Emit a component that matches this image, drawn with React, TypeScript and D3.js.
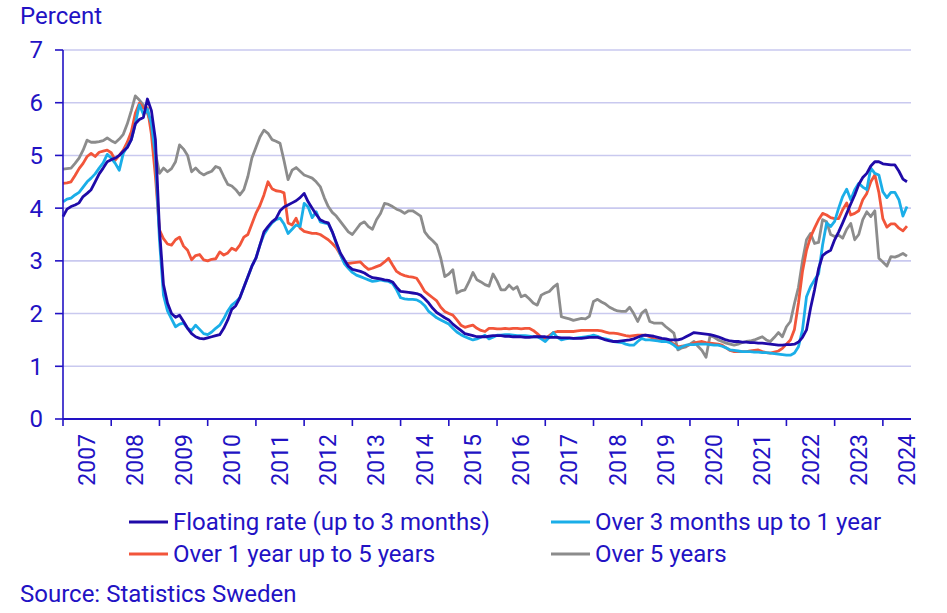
import React from "react";
import * as d3 from "d3";

// monthly values, Jan 2007 .. Jul 2024
const startYear = 2007;
const years = d3.range(2007, 2025);
const yTicks = [0, 1, 2, 3, 4, 5, 6, 7];

const floating = [
  3.84, 3.98, 4.03, 4.06, 4.1, 4.22, 4.28, 4.35, 4.5, 4.65, 4.76, 4.88,
  4.92, 4.95, 5.0, 5.08, 5.15, 5.3, 5.6, 5.68, 5.72, 6.07, 5.85, 5.3,
  3.6, 2.55, 2.2, 2.0, 1.93, 1.97, 1.85, 1.72, 1.62, 1.56, 1.53, 1.52,
  1.54, 1.56, 1.58, 1.6, 1.72, 1.88, 2.08, 2.15, 2.3, 2.5, 2.7, 2.9,
  3.05, 3.3, 3.55, 3.65, 3.74, 3.8, 3.95, 4.02, 4.06, 4.1, 4.14, 4.2,
  4.28, 4.12, 4.0, 3.88, 3.78, 3.74, 3.72, 3.55, 3.35, 3.15, 3.02, 2.9,
  2.84, 2.82, 2.8, 2.77, 2.72, 2.68, 2.67, 2.66, 2.64, 2.63, 2.6, 2.5,
  2.42, 2.41, 2.4, 2.39, 2.38, 2.35, 2.28, 2.2, 2.1, 2.02, 1.97, 1.92,
  1.88, 1.8, 1.74, 1.68, 1.62, 1.6, 1.58, 1.56, 1.56, 1.56, 1.57, 1.58,
  1.58, 1.58, 1.57, 1.57, 1.56, 1.56, 1.56, 1.55, 1.55, 1.56, 1.56, 1.56,
  1.56, 1.55, 1.55, 1.55, 1.54, 1.54, 1.54, 1.53, 1.53, 1.53, 1.54, 1.55,
  1.55, 1.55, 1.53, 1.5, 1.48, 1.47, 1.47, 1.48, 1.49, 1.5, 1.52, 1.55,
  1.58, 1.59, 1.58, 1.57, 1.55, 1.53, 1.52, 1.5, 1.5, 1.5, 1.52, 1.56,
  1.6, 1.64, 1.63, 1.62, 1.61, 1.6, 1.58, 1.56, 1.53, 1.5, 1.48, 1.47,
  1.47, 1.46, 1.46, 1.45, 1.45, 1.44, 1.44, 1.43, 1.42, 1.41, 1.4, 1.4,
  1.41, 1.41, 1.42, 1.46, 1.55, 1.69, 2.1, 2.45, 2.85, 3.1, 3.16, 3.2,
  3.4, 3.55, 3.72, 3.9, 4.08, 4.25, 4.45, 4.58, 4.66, 4.8, 4.88, 4.88,
  4.84, 4.83, 4.82, 4.82, 4.7, 4.55, 4.5,
];

const upTo1y = [
  4.12, 4.17, 4.19, 4.25, 4.3, 4.4, 4.5, 4.57, 4.65, 4.76, 4.86, 5.02,
  4.95, 4.85, 4.72, 5.04, 5.17, 5.3, 5.6, 5.96, 5.78, 5.88, 5.6, 5.0,
  3.4, 2.35, 2.05, 1.9, 1.75, 1.8, 1.82, 1.72, 1.68, 1.78, 1.7, 1.62,
  1.6, 1.65, 1.72, 1.78, 1.9, 2.05, 2.16, 2.22, 2.3, 2.5, 2.7, 2.9,
  3.05, 3.3, 3.5, 3.62, 3.72, 3.78, 3.81, 3.7, 3.52, 3.6, 3.68, 3.65,
  4.09, 4.02, 3.82, 3.93, 3.74, 3.72, 3.7, 3.55, 3.33, 3.12, 2.95, 2.86,
  2.78, 2.73, 2.7, 2.67, 2.64, 2.61, 2.62, 2.64, 2.62, 2.61, 2.57, 2.45,
  2.3, 2.28, 2.27, 2.27, 2.26, 2.22, 2.15, 2.04, 1.98, 1.92, 1.88, 1.84,
  1.8, 1.72, 1.65, 1.6, 1.56, 1.53, 1.5, 1.52, 1.55, 1.59, 1.52, 1.55,
  1.59, 1.59, 1.6, 1.6, 1.59, 1.58, 1.58, 1.58, 1.57, 1.56, 1.56, 1.52,
  1.47, 1.55, 1.64, 1.55, 1.5, 1.52, 1.53, 1.53, 1.54, 1.55, 1.56, 1.57,
  1.59, 1.57, 1.53, 1.52, 1.5, 1.47, 1.46, 1.45, 1.42, 1.4, 1.4, 1.47,
  1.53, 1.5, 1.5, 1.49, 1.48, 1.47, 1.47, 1.45, 1.4, 1.34, 1.37, 1.4,
  1.41, 1.41, 1.42, 1.42, 1.42, 1.41, 1.4, 1.4, 1.38, 1.35, 1.31, 1.3,
  1.29, 1.28, 1.28, 1.28, 1.27, 1.27, 1.26, 1.26, 1.25, 1.24, 1.23, 1.22,
  1.21, 1.21, 1.25, 1.37, 1.69, 2.32, 2.51, 2.64, 2.75, 3.3, 3.72, 3.65,
  3.75, 4.0, 4.22, 4.36, 4.16, 4.35, 4.47, 4.4, 4.35, 4.76, 4.66, 4.63,
  4.31, 4.2, 4.3, 4.3, 4.16, 3.85, 4.03,
];

const upTo5y = [
  4.47, 4.48, 4.5, 4.62, 4.75, 4.85, 4.98, 5.04, 4.98, 5.06, 5.08, 5.1,
  5.05, 4.91, 5.0, 5.1, 5.25, 5.45, 5.8, 5.99, 5.9, 5.9, 5.4, 4.6,
  3.59, 3.42, 3.32, 3.3, 3.4, 3.45, 3.28, 3.2, 3.02, 3.1, 3.12, 3.02,
  3.0, 3.03, 3.04, 3.17, 3.11, 3.15, 3.24, 3.2, 3.3, 3.45, 3.5, 3.7,
  3.9, 4.05, 4.25, 4.5, 4.37, 4.33, 4.32, 4.29, 3.72, 3.68, 3.81, 3.62,
  3.56, 3.54, 3.52, 3.52, 3.5, 3.45, 3.4, 3.33, 3.25, 3.12, 2.97, 2.95,
  2.96, 2.97, 2.98, 2.9, 2.84, 2.86, 2.89, 2.92, 2.98, 3.05, 2.92, 2.8,
  2.75, 2.72, 2.7, 2.69, 2.67, 2.55, 2.42, 2.36, 2.3, 2.24, 2.12, 2.04,
  2.0, 1.97, 1.88, 1.78, 1.74, 1.76, 1.78, 1.72, 1.68, 1.66, 1.72, 1.72,
  1.71, 1.71, 1.72, 1.71, 1.72, 1.72, 1.71, 1.72, 1.72, 1.68, 1.62, 1.55,
  1.53, 1.58, 1.64, 1.66, 1.66, 1.66, 1.66, 1.66, 1.67, 1.68, 1.68, 1.68,
  1.68, 1.68, 1.67, 1.65, 1.63, 1.63, 1.62, 1.6, 1.58, 1.57, 1.58, 1.59,
  1.59, 1.59, 1.56, 1.52, 1.5, 1.49, 1.48, 1.47, 1.42, 1.37, 1.38, 1.39,
  1.41, 1.44, 1.46, 1.47, 1.45, 1.44, 1.43, 1.42, 1.4, 1.35, 1.3, 1.28,
  1.28, 1.28, 1.28, 1.29, 1.3, 1.31, 1.28, 1.26, 1.25, 1.27, 1.29, 1.34,
  1.42, 1.5, 1.7, 2.2, 2.8, 3.2, 3.45, 3.62, 3.78, 3.9, 3.87, 3.82,
  3.8, 3.8, 3.97, 4.1, 3.87, 3.9, 3.95, 4.16, 4.28, 4.5, 4.63, 4.3,
  3.8, 3.64, 3.7, 3.7, 3.62, 3.57, 3.66,
];

const over5y = [
  4.74, 4.75, 4.76, 4.85, 4.95, 5.1, 5.29, 5.25, 5.25, 5.26, 5.28, 5.33,
  5.28, 5.24, 5.31, 5.4, 5.6, 5.85, 6.13, 6.05, 5.96, 5.8, 5.6, 5.05,
  4.66, 4.76, 4.69, 4.75, 4.88, 5.2, 5.12, 5.0, 4.69, 4.76, 4.68, 4.63,
  4.67, 4.7, 4.79, 4.76, 4.6, 4.45, 4.42, 4.35, 4.25, 4.35, 4.6, 4.95,
  5.15, 5.35, 5.48, 5.42, 5.3, 5.27, 5.23, 4.9, 4.54, 4.72, 4.77, 4.7,
  4.63, 4.6, 4.57, 4.5, 4.41, 4.2, 4.03, 3.92, 3.85, 3.75, 3.65, 3.55,
  3.5, 3.6, 3.7, 3.74, 3.65, 3.6, 3.78, 3.9, 4.09, 4.07, 4.03, 3.98,
  3.95, 3.9, 3.95, 3.95, 3.9, 3.85, 3.55, 3.45, 3.38, 3.3, 3.05, 2.7,
  2.75, 2.83, 2.39, 2.43, 2.45, 2.6, 2.78, 2.64, 2.6, 2.55, 2.52, 2.75,
  2.62, 2.45, 2.45, 2.54, 2.46, 2.51, 2.32, 2.35, 2.28, 2.2, 2.16, 2.35,
  2.39, 2.42, 2.5, 2.56, 1.94, 1.92, 1.9, 1.87, 1.89, 1.91, 1.9, 1.95,
  2.23, 2.27, 2.22, 2.18, 2.12, 2.08, 2.05, 2.04, 2.04, 2.12, 2.0, 1.85,
  2.01, 2.07, 1.85, 1.82, 1.82, 1.82, 1.75, 1.69, 1.63, 1.31, 1.35, 1.37,
  1.42, 1.47, 1.38, 1.3, 1.17, 1.58, 1.55, 1.5, 1.47, 1.44, 1.42, 1.4,
  1.42, 1.45, 1.47, 1.48, 1.5, 1.53, 1.56, 1.5, 1.47, 1.55, 1.64, 1.56,
  1.75, 1.85, 2.19, 2.5, 3.0, 3.4, 3.52, 3.33, 3.35, 3.78, 3.74, 3.5,
  3.46, 3.49, 3.43, 3.6, 3.71, 3.4, 3.5, 3.78, 3.93, 3.84, 3.95, 3.05,
  2.98, 2.9, 3.08, 3.07, 3.1, 3.14, 3.09,
];

const seriesNames = [
  "Floating rate (up to 3 months)",
  "Over 3 months up to 1 year",
  "Over 1 year up to 5 years",
  "Over 5 years",
];
const seriesColors = ["#1f0aa8", "#1aaee8", "#f2553a", "#8c8c8c"];
const seriesValues = [floating, upTo1y, upTo5y, over5y];

const W = 947;
const H = 613;
const left = 63;
const right = 911;
const top = 50;
const bottom = 419;
const ink = "#2212c4";
const font = "Roboto, 'Liberation Sans', Arial, sans-serif";

export default function App() {
  const x = d3.scaleLinear().domain([0, 211]).range([left, right]);
  const y = d3.scaleLinear().domain([0, 7]).range([bottom, top]);
  const line = d3
    .line<number>()
    .x((_, i) => x(i))
    .y((d) => y(d));

  // draw order: grey first, floating on top
  const order = [3, 2, 1, 0];

  return (
    <svg
      width={W}
      height={H}
      style={{ position: "absolute", left: 0, top: 0, background: "#fff" }}
      fontFamily={font}
    >
      <text x={20} y={24} fontSize={24} fill={ink}>
        Percent
      </text>

      {yTicks
        .filter((t) => t > 0)
        .map((t) => (
          <line
            key={"g" + t}
            x1={left}
            x2={right}
            y1={y(t)}
            y2={y(t)}
            stroke="#c9c9ef"
            strokeWidth={1.6}
          />
        ))}

      {order.map((k) => (
        <path
          key={seriesNames[k]}
          d={line(seriesValues[k]) || ""}
          fill="none"
          stroke={seriesColors[k]}
          strokeWidth={2.8}
          strokeLinejoin="round"
        />
      ))}

      {/* y axis */}
      <line x1={left} x2={left} y1={top} y2={bottom} stroke={ink} strokeWidth={1.6} />
      {yTicks.map((t) => (
        <g key={"y" + t}>
          <line x1={left - 8} x2={left} y1={y(t)} y2={y(t)} stroke={ink} strokeWidth={1.6} />
          <text
            x={43}
            y={y(t)}
            dy="0.35em"
            textAnchor="end"
            fontSize={24}
            fill={ink}
          >
            {t}
          </text>
        </g>
      ))}

      {/* x axis */}
      <line x1={left} x2={right} y1={bottom} y2={bottom} stroke={ink} strokeWidth={1.8} />
      {years.map((yr) => {
        const i = (yr - startYear) * 12;
        const cx = x(i + 6);
        return (
          <g key={"x" + yr}>
            <line x1={x(i)} x2={x(i)} y1={bottom} y2={bottom + 7} stroke={ink} strokeWidth={1.6} />
            <text
              transform={`translate(${cx + 8},${bottom + 15}) rotate(-90)`}
              textAnchor="end"
              fontSize={23}
              fill={ink}
            >
              {yr}
            </text>
          </g>
        );
      })}

      {/* legend */}
      {seriesNames.map((name, k) => {
        const lx = k % 2 === 0 ? 129 : 551;
        const ly = k < 2 ? 522 : 554;
        return (
          <g key={"l" + k}>
            <line x1={lx} x2={lx + 39} y1={ly} y2={ly} stroke={seriesColors[k]} strokeWidth={3} />
            <text x={lx + 44} y={ly} dy="0.35em" fontSize={24} fill={ink}>
              {name}
            </text>
          </g>
        );
      })}

      <text x={20} y={602} fontSize={24} fill={ink}>
        Source: Statistics Sweden
      </text>
    </svg>
  );
}
